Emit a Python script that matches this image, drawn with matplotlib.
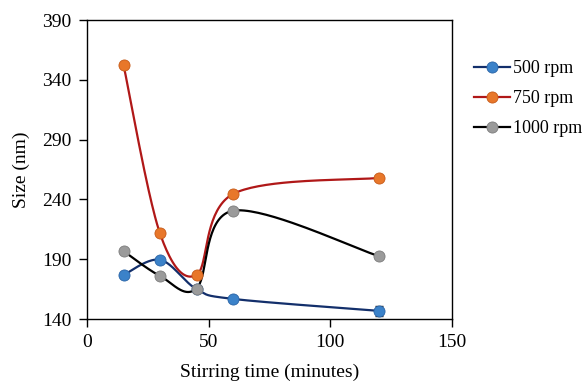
import numpy as np
import matplotlib.pyplot as plt

plt.rcParams['font.family'] = ['Liberation Serif', 'DejaVu Serif']

time_min = [15, 30, 45, 60, 120]
size_500 = [176.8, 189.5, 165.0, 156.8, 146.8]
size_750 = [352.5, 211.5, 176.8, 244.5, 258.0]
size_1000 = [196.8, 176.0, 165.5, 230.5, 192.5]
err_500 = [2.0, 1.5, 2.0, 1.5, 4.0]
err_750 = [1.5, 1.5, 2.0, 1.5, 1.5]
err_1000 = [1.5, 1.5, 2.0, 1.5, 1.5]
labels = ['500 rpm', '750 rpm', '1000 rpm']


def smooth(x, y, sx, sy, n=40):
    # Excel-style smoothed line: Catmull-Rom bezier in screen-like coordinates
    p = np.column_stack([np.array(x) * sx, np.array(y) * sy])
    out = [p[0]]
    for i in range(len(p) - 1):
        p0 = p[i - 1] if i > 0 else p[i]
        p1, p2 = p[i], p[i + 1]
        p3 = p[i + 2] if i + 2 < len(p) else p[i + 1]
        c1 = p1 + (p2 - p0) / 6
        c2 = p2 - (p3 - p1) / 6
        t = np.linspace(0, 1, n)[1:, None]
        seg = ((1 - t) ** 3) * p1 + 3 * ((1 - t) ** 2) * t * c1 + 3 * (1 - t) * t ** 2 * c2 + t ** 3 * p2
        out.extend(seg)
    out = np.array(out)
    return out[:, 0] / sx, out[:, 1] / sy


fig = plt.figure(figsize=(5.87, 3.85), dpi=100)
ax = fig.add_axes([87 / 587, 1 - 319 / 385, 365 / 587, 299 / 385])

sx, sy = 365 / 150, 299 / 250
series = [
    (size_500, err_500, '#132f6b', '#3b82c9', '#2a64a6'),
    (size_750, err_750, '#b01818', '#e8772a', '#c65a18'),
    (size_1000, err_1000, '#000000', '#9b9b9b', '#7d7d7d'),
]
for (ys, es, lc, mc, ec), lab in zip(series, labels):
    xs_s, ys_s = smooth(time_min, ys, sx, sy)
    ax.plot(xs_s, ys_s, color=lc, lw=1.6, zorder=2)
    ax.errorbar(time_min, ys, yerr=es, fmt='none', ecolor='#222222', elinewidth=0.8, capsize=3, zorder=3)
    ax.plot(time_min, ys, 'o', color=mc, mec=ec, mew=0.6, ms=8, zorder=4)
    ax.plot([], [], '-o', color=lc, mfc=mc, mec=ec, mew=0.6, ms=8, lw=1.6, label=lab)

ax.set_xlim(0, 150)
ax.set_ylim(140, 390)
ax.set_xticks([0, 50, 100, 150])
ax.set_yticks(range(140, 391, 50))
ax.tick_params(direction='out', length=6, width=1, labelsize=14, colors='black', pad=5)
for s in ax.spines.values():
    s.set_linewidth(1)
ax.set_xlabel('Stirring time (minutes)', fontsize=14)
ax.xaxis.set_label_coords(0.5, -0.15)
ax.set_ylabel('Size (nm)', fontsize=14)
ax.yaxis.set_label_coords(-0.155, 0.5)

ax.legend(loc='upper left', bbox_to_anchor=(1.04, 0.89), frameon=False, fontsize=13,
          handlelength=2.0, handletextpad=0.15, labelspacing=0.72, borderaxespad=0)

fig.savefig('out.png', dpi=100)
